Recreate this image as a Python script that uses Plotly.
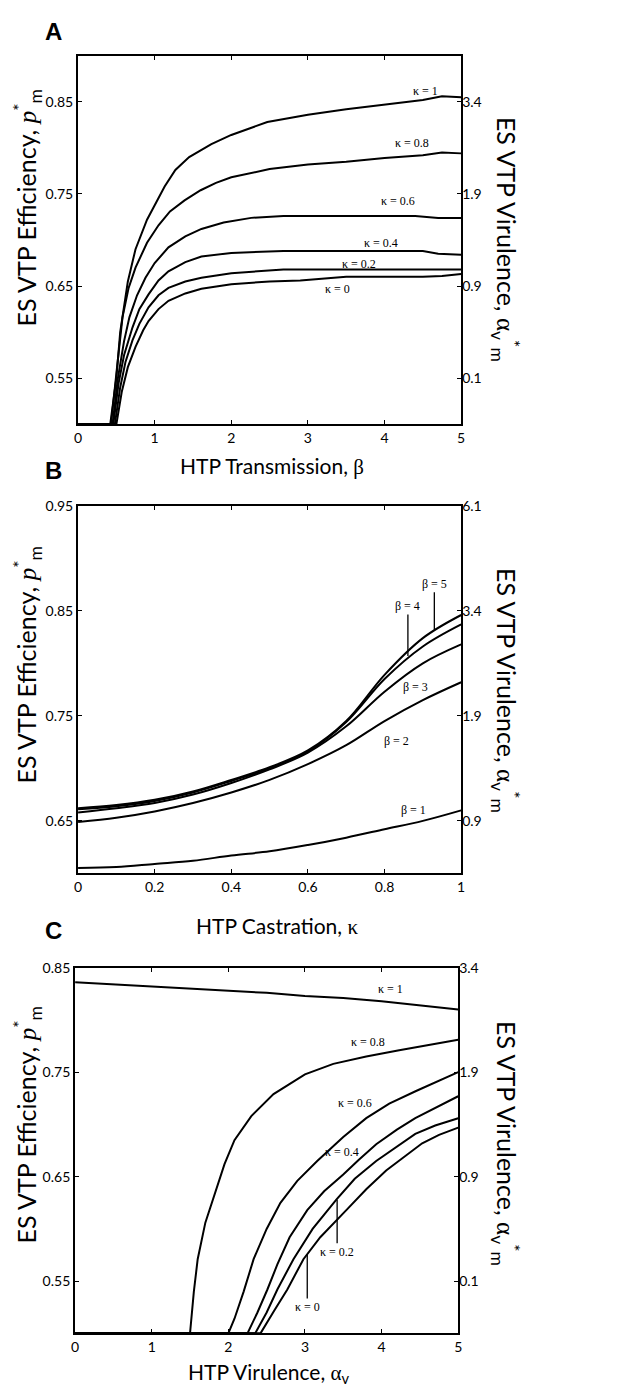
import plotly.graph_objects as go

# ---------------- Panel A data: ES efficiency vs HTP transmission (beta) ----------------
A_k1_x = [0, 0.42, 0.5, 0.55, 0.65, 0.75, 0.9, 1.0, 1.13, 1.27, 1.45, 1.74, 2.0, 2.47, 3.0, 3.5, 4.0, 4.5, 4.75, 5.0]
A_k1_y = [0.50, 0.50, 0.55, 0.60, 0.655, 0.690, 0.722, 0.738, 0.758, 0.776, 0.790, 0.804, 0.814, 0.828, 0.836, 0.842, 0.847, 0.852, 0.856, 0.855]
A_k08_x = [0, 0.43, 0.5, 0.58, 0.66, 0.75, 0.9, 1.05, 1.2, 1.39, 1.6, 1.8, 2.0, 2.5, 3.0, 3.5, 4.0, 4.5, 4.75, 5.0]
A_k08_y = [0.50, 0.50, 0.555, 0.616, 0.648, 0.670, 0.697, 0.716, 0.731, 0.743, 0.754, 0.762, 0.768, 0.777, 0.782, 0.785, 0.789, 0.792, 0.795, 0.794]
A_k06_x = [0, 0.45, 0.52, 0.6, 0.67, 0.77, 0.88, 1.0, 1.18, 1.4, 1.61, 1.9, 2.26, 2.68, 3.0, 3.5, 4.0, 4.4, 4.7, 5.0]
A_k06_y = [0.50, 0.50, 0.55, 0.59, 0.616, 0.640, 0.659, 0.675, 0.692, 0.704, 0.712, 0.719, 0.724, 0.726, 0.726, 0.726, 0.726, 0.726, 0.724, 0.724]
A_k04_x = [0, 0.46, 0.53, 0.6, 0.71, 0.8, 0.92, 1.05, 1.18, 1.4, 1.61, 2.0, 2.68, 3.0, 3.5, 4.0, 4.5, 4.7, 5.0]
A_k04_y = [0.50, 0.50, 0.545, 0.575, 0.605, 0.625, 0.641, 0.656, 0.666, 0.676, 0.682, 0.686, 0.688, 0.688, 0.688, 0.688, 0.688, 0.685, 0.684]
A_k02_x = [0, 0.48, 0.55, 0.62, 0.71, 0.8, 0.92, 1.05, 1.18, 1.4, 1.61, 2.0, 2.68, 3.0, 4.0, 5.0]
A_k02_y = [0.50, 0.50, 0.54, 0.568, 0.591, 0.609, 0.627, 0.640, 0.648, 0.655, 0.659, 0.664, 0.668, 0.668, 0.668, 0.668]
A_k0_x = [0, 0.5, 0.57, 0.65, 0.75, 0.85, 0.92, 1.05, 1.18, 1.4, 1.61, 2.0, 2.5, 2.9, 3.5, 4.0, 4.5, 4.75, 5.0]
A_k0_y = [0.50, 0.50, 0.535, 0.562, 0.584, 0.602, 0.612, 0.625, 0.634, 0.642, 0.647, 0.652, 0.655, 0.656, 0.660, 0.660, 0.660, 0.661, 0.663]

# ---------------- Panel B data: ES efficiency vs HTP castration (kappa) ----------------
B_x = [0, 0.1, 0.2, 0.3, 0.4, 0.5, 0.6, 0.7, 0.8, 0.9, 1.0]
B_b1 = [0.605, 0.606, 0.609, 0.612, 0.617, 0.621, 0.627, 0.634, 0.642, 0.650, 0.660]
B_b2 = [0.649, 0.653, 0.659, 0.667, 0.677, 0.689, 0.704, 0.722, 0.745, 0.765, 0.782]
B_b3 = [0.658, 0.662, 0.667, 0.675, 0.686, 0.699, 0.715, 0.740, 0.773, 0.800, 0.818]
B_b4 = [0.661, 0.664, 0.669, 0.677, 0.688, 0.700, 0.716, 0.744, 0.785, 0.816, 0.837]
B_b5 = [0.662, 0.665, 0.670, 0.678, 0.689, 0.701, 0.717, 0.745, 0.789, 0.824, 0.846]

# ---------------- Panel C data: ES efficiency vs HTP virulence (alpha_v) ----------------
C_k1_x = [0, 0.5, 1, 1.5, 2, 2.5, 3, 3.5, 4, 4.5, 5]
C_k1_y = [0.836, 0.834, 0.832, 0.830, 0.828, 0.826, 0.823, 0.821, 0.818, 0.814, 0.810]
C_k08_x = [0, 1.5, 1.55, 1.6, 1.7, 1.82, 1.95, 2.08, 2.3, 2.59, 3.0, 3.37, 3.8, 4.23, 4.6, 5.0]
C_k08_y = [0.50, 0.50, 0.54, 0.571, 0.606, 0.634, 0.662, 0.685, 0.708, 0.729, 0.748, 0.758, 0.765, 0.771, 0.776, 0.781]
C_k06_x = [0, 2.0, 2.08, 2.2, 2.33, 2.5, 2.68, 2.9, 3.16, 3.5, 3.8, 4.1, 4.45, 4.75, 5.0]
C_k06_y = [0.50, 0.50, 0.514, 0.54, 0.571, 0.60, 0.625, 0.646, 0.665, 0.688, 0.706, 0.720, 0.732, 0.742, 0.750]
C_k04_x = [0, 2.25, 2.38, 2.51, 2.64, 2.8, 3.03, 3.25, 3.5, 3.7, 3.93, 4.2, 4.44, 4.7, 5.0]
C_k04_y = [0.50, 0.50, 0.52, 0.542, 0.566, 0.592, 0.618, 0.636, 0.652, 0.666, 0.681, 0.695, 0.706, 0.716, 0.727]
C_k02_x = [0, 2.35, 2.5, 2.64, 2.85, 3.1, 3.41, 3.65, 3.93, 4.2, 4.44, 4.7, 5.0]
C_k02_y = [0.50, 0.50, 0.52, 0.542, 0.571, 0.600, 0.628, 0.648, 0.665, 0.679, 0.691, 0.699, 0.706]
C_k0_x = [0, 2.42, 2.6, 2.77, 2.98, 3.2, 3.54, 3.8, 4.06, 4.3, 4.53, 4.75, 5.0]
C_k0_y = [0.50, 0.50, 0.522, 0.542, 0.571, 0.592, 0.618, 0.638, 0.656, 0.669, 0.682, 0.690, 0.697]

# ---------------- ticks ----------------
A_ytick = [0.55, 0.65, 0.75, 0.85]
A_ytext = ["0.55", "0.65", "0.75", "0.85"]
A_rtext = ["0.1", "0.9", "1.9", "3.4"]
B_ytick = [0.65, 0.75, 0.85, 0.95]
B_ytext = ["0.65", "0.75", "0.85", "0.95"]
B_rtext = ["0.9", "1.9", "3.4", "6.1"]
C_ytick = [0.55, 0.65, 0.75, 0.85]
C_ytext = ["0.55", "0.65", "0.75", "0.85"]
C_rtext = ["0.1", "0.9", "1.9", "3.4"]
AC_xtick = [0, 1, 2, 3, 4, 5]
AC_xtext = ["0", "1", "2", "3", "4", "5"]
B_xtick = [0, 0.2, 0.4, 0.6, 0.8, 1.0]
B_xtext = ["0", "0.2", "0.4", "0.6", "0.8", "1"]

W, H = 633, 1390
SANS = "Lato"
SERIF = "Liberation Serif"

fig = go.Figure()
LINE = dict(color="black", width=2)

def add(x, y, xa, ya, shape="linear"):
    fig.add_trace(go.Scatter(x=x, y=y, mode="lines", line=dict(LINE, shape=shape),
                             xaxis=xa, yaxis=ya, showlegend=False, hoverinfo="skip"))

for x, y in [(A_k1_x, A_k1_y), (A_k08_x, A_k08_y), (A_k06_x, A_k06_y),
             (A_k04_x, A_k04_y), (A_k02_x, A_k02_y), (A_k0_x, A_k0_y)]:
    add(x, y, "x", "y")
for y in [B_b1, B_b2, B_b3, B_b4, B_b5]:
    add(B_x, y, "x2", "y2", "spline")
for x, y in [(C_k1_x, C_k1_y), (C_k08_x, C_k08_y), (C_k06_x, C_k06_y),
             (C_k04_x, C_k04_y), (C_k02_x, C_k02_y), (C_k0_x, C_k0_y)]:
    add(x, y, "x3", "y3")
# invisible anchors for the right-hand axes
for xa, ya, xv, yv in [("x", "y4", 0, 0.5), ("x2", "y5", 0, 0.6), ("x3", "y6", 0, 0.5)]:
    fig.add_trace(go.Scatter(x=[xv], y=[yv], mode="markers", marker=dict(opacity=0),
                             xaxis=xa, yaxis=ya, showlegend=False, hoverinfo="skip"))

def px_x(p):
    return p / W

def px_y(p):
    return 1 - p / H

tickfont = dict(family=SANS, size=14, color="black")

def ax(dom, anchor, rng, tv, tt):
    return dict(domain=dom, anchor=anchor, range=rng, tickvals=tv, ticktext=tt,
                showline=True, linecolor="black", linewidth=2, mirror="ticks",
                ticks="inside", ticklen=4, tickwidth=1, tickcolor="black",
                showgrid=False, zeroline=False, tickfont=tickfont)

def rax(over, anchor, rng, tv, tt):
    return dict(overlaying=over, anchor=anchor, side="right", range=rng, tickvals=tv,
                ticktext=tt, showline=False, ticks="", showgrid=False, zeroline=False,
                tickfont=tickfont)

xdomAB = [px_x(75), px_x(463)]
xdomC = [px_x(72), px_x(460)]
ydomA = [px_y(418), px_y(47)]
ydomB = [px_y(870), px_y(500)]
ydomC = [px_y(1333), px_y(965)]

fig.update_layout(
    width=W, height=H, margin=dict(l=0, r=0, t=0, b=0),
    paper_bgcolor="white", plot_bgcolor="white",
    xaxis=ax(xdomAB, "y", [0, 5], AC_xtick, AC_xtext),
    yaxis=ax(ydomA, "x", [0.5, 0.9], A_ytick, A_ytext),
    xaxis2=ax(xdomAB, "y2", [0, 1], B_xtick, B_xtext),
    yaxis2=ax(ydomB, "x2", [0.6, 0.95], B_ytick, B_ytext),
    xaxis3=ax(xdomC, "y3", [0, 5], AC_xtick, AC_xtext),
    yaxis3=ax(ydomC, "x3", [0.5, 0.85], C_ytick, C_ytext),
    yaxis4=rax("y", "x", [0.5, 0.9], A_ytick, A_rtext),
    yaxis5=rax("y2", "x2", [0.6, 0.95], B_ytick, B_rtext),
    yaxis6=rax("y3", "x3", [0.5, 0.85], C_ytick, C_rtext),
)

ann = []

def pa(text, cx, cy, font, angle=0):
    ann.append(dict(text=text, x=px_x(cx), y=px_y(cy), xref="paper", yref="paper",
                    xanchor="center", yanchor="middle", showarrow=False,
                    textangle=angle, font=font))

# panel letters
for letter, cy in [("A", 23), ("B", 465), ("C", 928)]:
    pa("<b>%s</b>" % letter, 50, cy, dict(family="Liberation Sans", size=24, color="black"))

xtfont = dict(family=SANS, size=21, color="black")
ytfont = dict(family=SANS, size=25, color="black")

def g(s):
    return "<span style='font-family:%s'>%s</span>" % (SERIF, s)

# x titles
pa("HTP Transmission, " + g("β"), 271, 460, xtfont)
pa("HTP Castration, " + g("κ"), 277, 923, xtfont)
pa("HTP Virulence, " + g("α") + "<sub>v</sub>", 268, 1373, xtfont)

left_title = "ES VTP Efficiency, " + "<span style='font-family:%s'><i>p</i></span>" % SERIF + "<sup>*</sup><sub>m</sub>"
right_title = "ES VTP Virulence, " + g("α") + "<sub>v</sub><sup>*</sup><sub>m</sub>"
for cy in [200, 660, 1123]:
    pa(left_title, 24, cy, ytfont, -90)
for cy in [232, 686, 1142]:
    pa(right_title, 508, cy, ytfont, 90)

lfont = dict(family=SERIF, size=12, color="black")
# panel A curve labels
A_labels = [("κ = 1", 4.54, 0.862), ("κ = 0.8", 4.36, 0.805), ("κ = 0.6", 4.17, 0.742),
            ("κ = 0.4", 3.95, 0.697), ("κ = 0.2", 3.67, 0.674), ("κ = 0", 3.39, 0.647)]
for t, x, y in A_labels:
    ann.append(dict(text=t, x=x, y=y, xref="x", yref="y", showarrow=False, font=lfont))

# panel B labels
B_labels = [("β = 1", 0.876, 0.660), ("β = 2", 0.83, 0.726), ("β = 3", 0.88, 0.777)]
for t, x, y in B_labels:
    ann.append(dict(text=t, x=x, y=y, xref="x2", yref="y2", showarrow=False, font=lfont))
B_lead = [("β = 4", 0.861, 0.807, -50), ("β = 5", 0.93, 0.832, -46)]
for t, x, y, ay in B_lead:
    ann.append(dict(text=t, x=x, y=y, xref="x2", yref="y2", showarrow=True, arrowhead=0,
                    arrowwidth=1.3, arrowcolor="black", ax=0, ay=ay, font=lfont))

# panel C labels
C_labels = [("κ = 1", 4.12, 0.830), ("κ = 0.8", 3.82, 0.779), ("κ = 0.6", 3.65, 0.721),
            ("κ = 0.4", 3.48, 0.674)]
for t, x, y in C_labels:
    ann.append(dict(text=t, x=x, y=y, xref="x3", yref="y3", showarrow=False, font=lfont))
C_lead = [("κ = 0.2", 3.42, 0.628, 52), ("κ = 0", 3.03, 0.575, 52)]
for t, x, y, ay in C_lead:
    ann.append(dict(text=t, x=x, y=y, xref="x3", yref="y3", showarrow=True, arrowhead=0,
                    arrowwidth=1.3, arrowcolor="black", ax=0, ay=ay, font=lfont))

fig.update_layout(annotations=ann)
fig.write_html("out.html", config={"displayModeBar": False},
               post_script="document.body.style.margin='0px';document.body.style.overflow='hidden';")
